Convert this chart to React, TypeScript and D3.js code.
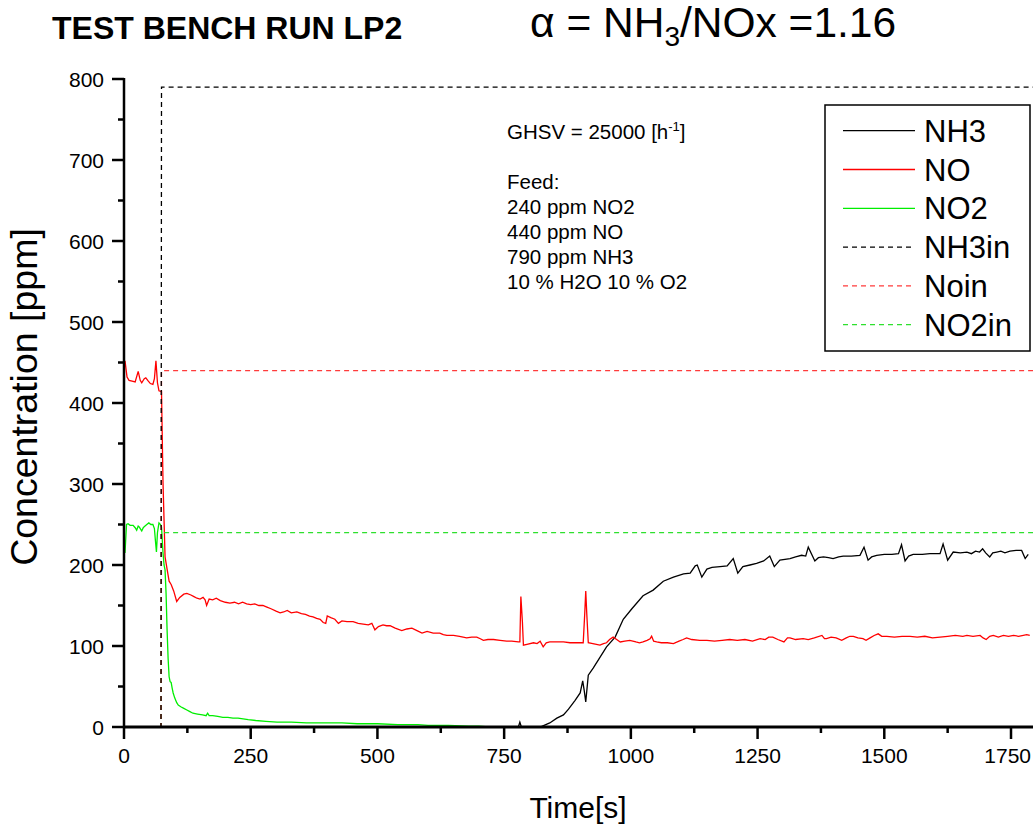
import React from "react";
import * as d3 from "d3";

type Pt = [number, number];

const xTicks = [0, 250, 500, 750, 1000, 1250, 1500, 1750];
const yTicks = [0, 100, 200, 300, 400, 500, 600, 700, 800];

const noData: Pt[] = [[2,452],[6,432],[10,428],[16,427],[22,426],[28,439],[32,428],[35,425],[40,430],[43,431],[48,427],[52,424],[57,423],[60,430],[63,452],[66,425],[69,415],[74,414],[77,301],[81,210],[85,195],[89,180],[93,176],[98,168],[104,155],[110,160],[118,164],[124,165],[132,163],[138,161],[144,159],[150,158],[156,160],[160,157],[163,150],[168,158],[175,157],[182,159],[190,156],[200,154],[209,153],[218,154],[226,152],[234,154],[242,152],[250,151],[258,152],[266,150],[274,150],[282,148],[290,146],[300,143],[308,141],[315,142],[322,144],[330,141],[341,142],[350,140],[358,139],[366,137],[373,136],[380,134],[387,133],[393,129],[398,128],[401,137],[408,135],[416,133],[423,128],[430,131],[440,130],[452,130],[462,128],[472,127],[482,126],[489,128],[495,120],[502,124],[511,126],[518,125],[525,125],[535,122],[548,119],[558,121],[568,122],[578,119],[588,116],[598,118],[610,116],[623,116],[630,114],[637,113],[650,113],[662,112],[676,110],[686,111],[696,111],[703,109],[709,107],[718,108],[729,108],[742,107],[755,106],[765,106],[778,105],[781,105],[783,161],[786,130],[788,101],[795,102],[808,104],[815,103],[821,106],[827,99],[833,104],[840,105],[855,105],[867,105],[880,104],[893,104],[903,104],[906,104],[909,140],[911,168],[913,140],[916,104],[925,103],[932,102],[939,101],[946,103],[952,104],[958,108],[965,111],[972,108],[979,105],[988,106],[998,107],[1010,105],[1017,104],[1024,105],[1032,107],[1038,109],[1041,112],[1045,106],[1051,105],[1060,104],[1072,104],[1084,103],[1095,106],[1103,108],[1110,110],[1120,108],[1136,107],[1150,107],[1165,106],[1180,107],[1195,108],[1210,107],[1225,108],[1240,106],[1255,109],[1265,108],[1272,111],[1280,111],[1290,108],[1302,105],[1309,110],[1314,110],[1325,108],[1340,109],[1350,108],[1362,110],[1377,113],[1382,109],[1386,109],[1395,111],[1405,110],[1416,107],[1425,110],[1432,112],[1439,112],[1448,110],[1458,109],[1464,107],[1472,110],[1480,113],[1488,115],[1495,112],[1505,112],[1520,111],[1535,112],[1551,112],[1565,111],[1580,112],[1595,110],[1610,111],[1625,112],[1640,113],[1655,112],[1663,113],[1675,112],[1689,113],[1695,110],[1701,108],[1708,112],[1715,113],[1725,111],[1735,113],[1745,112],[1755,113],[1765,112],[1781,114],[1787,113]];

const no2Data: Pt[] = [[2,215],[5,250],[8,251],[12,249],[18,249],[22,246],[25,243],[28,248],[30,247],[33,244],[35,242],[38,246],[41,248],[45,250],[49,252],[53,250],[57,250],[60,245],[62,230],[64,216],[66,240],[69,252],[72,250],[74,247],[77,215],[79,200],[81,194],[83,165],[85,120],[87,85],[89,62],[91,56],[93,55],[95,48],[97,42],[100,36],[104,30],[107,27],[112,25],[118,23],[124,21],[130,19],[136,17],[145,16],[155,15],[162,14],[165,17],[168,14],[175,14],[185,13],[195,12],[205,12],[215,11],[225,11],[235,10],[245,9],[260,8],[280,7],[302,6],[330,6],[360,5],[400,5],[430,5],[460,4],[500,4],[540,3],[580,3],[600,2],[640,2],[680,1],[700,1],[720,0],[1785,0]];

const nh3Data: Pt[] = [[0,0],[770,0],[778,0],[781,6],[784,0],[821,0],[840,5],[854,11],[867,15],[877,22],[890,33],[900,42],[905,57],[908,45],[911,31],[916,64],[926,73],[939,86],[952,99],[969,111],[985,133],[1002,146],[1024,162],[1044,169],[1064,180],[1084,185],[1104,189],[1117,190],[1127,199],[1131,200],[1140,185],[1150,195],[1160,197],[1176,198],[1190,199],[1202,208],[1211,190],[1221,198],[1235,200],[1248,202],[1262,205],[1274,211],[1283,198],[1294,206],[1314,208],[1325,210],[1337,212],[1345,211],[1350,222],[1363,205],[1370,209],[1380,210],[1390,209],[1399,208],[1410,210],[1419,211],[1435,211],[1452,212],[1460,222],[1468,206],[1475,210],[1485,212],[1500,213],[1515,213],[1528,214],[1534,225],[1541,205],[1548,211],[1557,213],[1575,213],[1590,214],[1610,214],[1616,226],[1625,206],[1636,216],[1650,215],[1663,216],[1672,214],[1680,217],[1688,216],[1694,220],[1700,215],[1708,210],[1714,215],[1722,216],[1730,217],[1738,215],[1748,217],[1760,218],[1771,218],[1778,208],[1784,213]];

const nh3inData: Pt[] = [[0,0],[73,0],[74,790],[1800,790]];
const noinData: Pt[] = [[0,0],[73,0],[74,440],[1800,440]];
const no2inData: Pt[] = [[0,0],[73,0],[74,240],[1800,240]];

const seriesNames = ["NH3", "NO", "NO2", "NH3in", "Noin", "NO2in"];
const seriesColors = ["#000000", "#ff0000", "#00ee00", "#000000", "#ff3b3b", "#2ee02e"];
const seriesDashed = [false, false, false, true, true, true];
const seriesData = [nh3Data, noData, no2Data, nh3inData, noinData, no2inData];
const drawOrder = [0, 1, 2, 5, 4, 3];

const noteLines = ["Feed:", "240 ppm NO2", "440 ppm NO", "790 ppm NH3", "10 % H2O 10 % O2"];

const FONT = "'Liberation Sans', Arial, Helvetica, sans-serif";

export default function App() {
  const x = d3.scaleLinear().domain([0, 1800]).range([124, 124 + 1800 * 0.50686]);
  const y = d3.scaleLinear().domain([0, 800]).range([727, 79]);
  const line = d3.line<Pt>().x((d) => x(d[0])).y((d) => y(d[1]));
  const xMinor = d3.range(125, 1800, 250);
  const yMinor = d3.range(50, 800, 100);

  const legX = 825, legY = 105, legRow = 38.8;

  return (
    <svg width={1033} height={824} style={{ position: "absolute", left: 0, top: 0, background: "#fff" }} fontFamily={FONT}>
      <rect x={0} y={0} width={1033} height={824} fill="#fff" />
      <text x={52} y={39} fontSize={32} fontWeight="bold">TEST BENCH RUN LP2</text>
      <text x={530} y={37} fontSize={42.5}>
        α = NH<tspan fontSize={28} dy={9}>3</tspan><tspan dy={-9}>/NOx =1.16</tspan>
      </text>

      {drawOrder.map((i) => (
        <path key={i} d={line(seriesData[i]) || ""} fill="none" stroke={seriesColors[i]}
          strokeWidth={1.3}
          strokeDasharray={seriesDashed[i] ? "5,4" : undefined} />
      ))}

      {/* axes */}
      <line x1={124} x2={124} y1={y(800) - 1} y2={728} stroke="#000" strokeWidth={2.5} />
      <line x1={123} x2={1040} y1={727} y2={727} stroke="#000" strokeWidth={3} />
      {yTicks.map((t) => (
        <g key={"y" + t}>
          <line x1={112} x2={124} y1={y(t)} y2={y(t)} stroke="#000" strokeWidth={2.5} />
          <text x={104} y={y(t) + 7.5} fontSize={21} textAnchor="end">{t}</text>
        </g>
      ))}
      {yMinor.map((t) => (
        <line key={"ym" + t} x1={118} x2={124} y1={y(t)} y2={y(t)} stroke="#000" strokeWidth={2.5} />
      ))}
      {xTicks.map((t, i) => {
        const last = i === xTicks.length - 1;
        return (
          <g key={"x" + t}>
            <line x1={x(t)} x2={x(t)} y1={727} y2={739} stroke="#000" strokeWidth={2.5} />
            <text x={last ? 1031 : x(t)} y={763} fontSize={21} textAnchor={last ? "end" : "middle"}>{t}</text>
          </g>
        );
      })}
      {xMinor.map((t) => (
        <line key={"xm" + t} x1={x(t)} x2={x(t)} y1={727} y2={733} stroke="#000" strokeWidth={2.5} />
      ))}

      <text x={578} y={818} fontSize={30} textAnchor="middle">Time[s]</text>
      <text transform="translate(37,397) rotate(-90)" fontSize={37.5} textAnchor="middle">Concentration [ppm]</text>

      {/* annotation */}
      <text x={507} y={139} fontSize={20.5}>
        GHSV = 25000 [h<tspan fontSize={13} dy={-8}>-1</tspan><tspan dy={8}>]</tspan>
      </text>
      {noteLines.map((s, i) => (
        <text key={s} x={507} y={189 + i * 25} fontSize={20.5}>{s}</text>
      ))}

      {/* legend */}
      <rect x={legX} y={legY} width={205} height={246} fill="#fff" stroke="#000" strokeWidth={1.5} />
      {seriesNames.map((n, i) => {
        const cy = 130.7 + i * legRow;
        return (
          <g key={n}>
            <line x1={843} x2={915} y1={cy} y2={cy} stroke={seriesColors[i]} strokeWidth={1.3}
              strokeDasharray={seriesDashed[i] ? "5,4" : undefined} />
            <text x={924} y={cy + 11} fontSize={31}>{n}</text>
          </g>
        );
      })}
    </svg>
  );
}
